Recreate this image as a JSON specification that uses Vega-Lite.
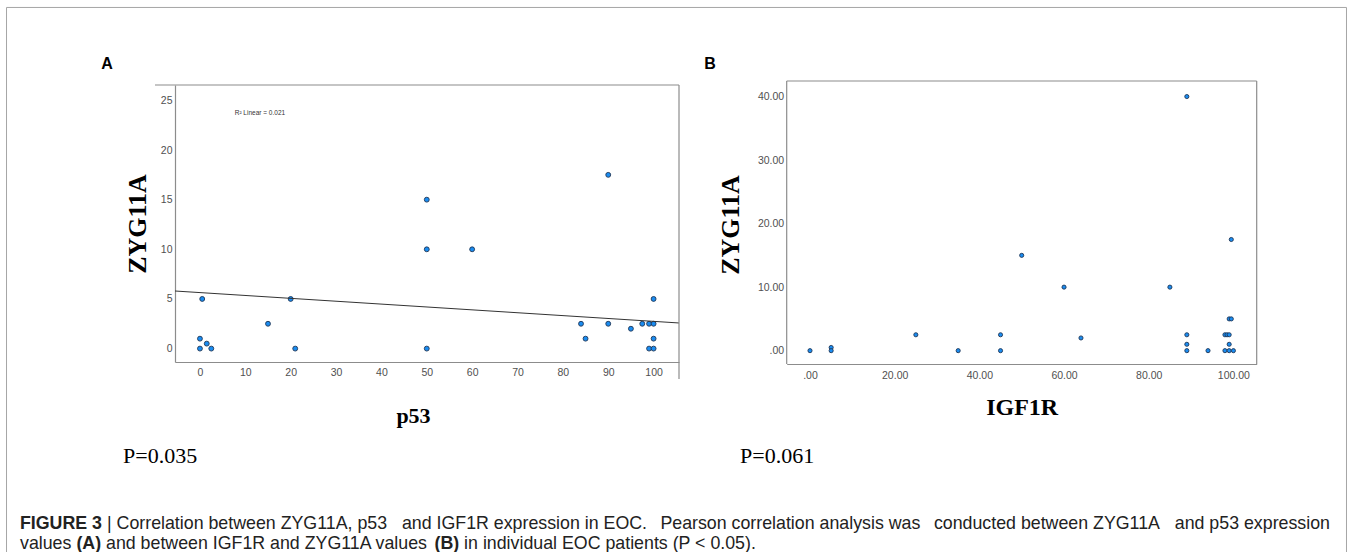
{
  "$schema": "https://vega.github.io/schema/vega-lite/v6.json",
  "background": "white",
  "padding": {"left": 6, "top": 6, "right": 0, "bottom": 0},
  "autosize": {"type": "pad"},
  "bounds": "flush",
  "spacing": 107.7,
  "config": {
    "view": {"stroke": null},
    "axis": {"grid": false, "ticks": false, "labelFont": "Liberation Sans", "labelFontSize": 10.5, "labelColor": "#505050", "domainColor": "#8c8c8c", "domainWidth": 1.2, "labelOverlap": false, "labelFlush": false, "labelBound": false, "titleFont": "Liberation Serif", "titleFontWeight": "bold", "titleColor": "#000000"}
  },
  "datasets": {
    "a": [
      {"p53": 0.5, "zyg11a": 5}, {"p53": 0, "zyg11a": 1}, {"p53": 0, "zyg11a": 0}, {"p53": 1.5, "zyg11a": 0.5},
      {"p53": 2.5, "zyg11a": 0}, {"p53": 15, "zyg11a": 2.5}, {"p53": 20, "zyg11a": 5}, {"p53": 21, "zyg11a": 0},
      {"p53": 50, "zyg11a": 15}, {"p53": 50, "zyg11a": 10}, {"p53": 60, "zyg11a": 10}, {"p53": 90, "zyg11a": 17.5},
      {"p53": 50, "zyg11a": 0}, {"p53": 84, "zyg11a": 2.5}, {"p53": 85, "zyg11a": 1}, {"p53": 90, "zyg11a": 2.5},
      {"p53": 95, "zyg11a": 2}, {"p53": 97.5, "zyg11a": 2.5}, {"p53": 99, "zyg11a": 2.5}, {"p53": 100, "zyg11a": 2.5},
      {"p53": 100, "zyg11a": 5}, {"p53": 100, "zyg11a": 1}, {"p53": 99, "zyg11a": 0}, {"p53": 100, "zyg11a": 0}
    ],
    "fitA": [{"p53": -5.5, "zyg11a": 5.8}, {"p53": 105.6, "zyg11a": 2.58}],
    "b": [
      {"igf1r": 0, "zyg11a": 0}, {"igf1r": 5, "zyg11a": 0.5}, {"igf1r": 5, "zyg11a": 0}, {"igf1r": 25, "zyg11a": 2.5},
      {"igf1r": 35, "zyg11a": 0}, {"igf1r": 45, "zyg11a": 2.5}, {"igf1r": 45, "zyg11a": 0}, {"igf1r": 50, "zyg11a": 15},
      {"igf1r": 60, "zyg11a": 10}, {"igf1r": 64, "zyg11a": 2}, {"igf1r": 85, "zyg11a": 10}, {"igf1r": 89, "zyg11a": 40},
      {"igf1r": 89, "zyg11a": 2.5}, {"igf1r": 89, "zyg11a": 1}, {"igf1r": 89, "zyg11a": 0}, {"igf1r": 94, "zyg11a": 0},
      {"igf1r": 99, "zyg11a": 5}, {"igf1r": 99.5, "zyg11a": 5}, {"igf1r": 98, "zyg11a": 2.5}, {"igf1r": 98.5, "zyg11a": 2.5},
      {"igf1r": 99, "zyg11a": 2.5}, {"igf1r": 99, "zyg11a": 1}, {"igf1r": 98, "zyg11a": 0}, {"igf1r": 99, "zyg11a": 0},
      {"igf1r": 100, "zyg11a": 0}, {"igf1r": 99.5, "zyg11a": 17.5}
    ]
  },
  "hconcat": [
    {
      "width": 504,
      "height": 277,
      "layer": [
        {
          "data": {"name": "a"},
          "mark": {"type": "point", "filled": true, "size": 24, "fill": "#1a8cf0", "stroke": "#1d3557", "strokeWidth": 0.9, "opacity": 1},
          "encoding": {
            "x": {"field": "p53", "type": "quantitative", "title": "p53",
              "scale": {"domain": [-5.5, 105.6], "nice": false, "zero": false},
              "axis": {"values": [0, 10, 20, 30, 40, 50, 60, 70, 80, 90, 100], "labelPadding": 5, "titleFontSize": 22, "titleX": 238, "titleY": 60, "titleBaseline": "alphabetic", "titleAlign": "center"}},
            "y": {"field": "zyg11a", "type": "quantitative", "title": "ZYG11A",
              "scale": {"domain": [-1.35, 26.55], "nice": false, "zero": false},
              "axis": {"values": [0, 5, 10, 15, 20, 25], "labelPadding": 3, "titleFontSize": 26, "titleX": -37.5, "titleY": 138.5, "titleAngle": -90, "titleBaseline": "middle", "titleAlign": "center"}}
          }
        },
        {
          "data": {"name": "fitA"},
          "mark": {"type": "line", "color": "#333333", "strokeWidth": 1},
          "encoding": {
            "x": {"field": "p53", "type": "quantitative", "title": "p53"},
            "y": {"field": "zyg11a", "type": "quantitative", "title": "ZYG11A"}
          }
        },
        {
          "data": {"values": [{}]},
          "mark": {"type": "rule", "color": "#8c8c8c", "strokeWidth": 1.2},
          "encoding": {"x": {"datum": -9.91, "type": "quantitative", "title": "p53"}, "x2": {"datum": 105.6}, "y": {"datum": 26.55, "type": "quantitative", "title": "ZYG11A"}}
        },
        {
          "data": {"values": [{}]},
          "mark": {"type": "rule", "color": "#8c8c8c", "strokeWidth": 1.2},
          "encoding": {"x": {"datum": 105.6, "type": "quantitative", "title": "p53"}, "y": {"datum": 26.55, "type": "quantitative", "title": "ZYG11A"}, "y2": {"datum": -3.06}}
        },
        {
          "data": {"values": [{}]},
          "mark": {"type": "rule", "color": "#a6a6a6", "strokeWidth": 1},
          "encoding": {"x": {"datum": -42.64, "type": "quantitative", "title": "p53"}, "x2": {"datum": 252.74}, "y": {"datum": 34.36, "type": "quantitative", "title": "ZYG11A"}}
        },
        {
          "data": {"values": [{}]},
          "mark": {"type": "rule", "color": "#a6a6a6", "strokeWidth": 1},
          "encoding": {"x": {"datum": -42.64, "type": "quantitative", "title": "p53"}, "y": {"datum": 34.36, "type": "quantitative", "title": "ZYG11A"}, "y2": {"datum": -20.5}}
        },
        {
          "data": {"values": [{}]},
          "mark": {"type": "rule", "color": "#a6a6a6", "strokeWidth": 1},
          "encoding": {"x": {"datum": 252.74, "type": "quantitative", "title": "p53"}, "y": {"datum": 34.36, "type": "quantitative", "title": "ZYG11A"}, "y2": {"datum": -20.5}}
        },
        {
          "data": {"values": [{"t": "R² Linear = 0.021"}]},
          "mark": {"type": "text", "align": "left", "baseline": "middle", "font": "Liberation Sans", "fontSize": 6.5, "color": "#333333"},
          "encoding": {"text": {"field": "t"}, "x": {"datum": 7.66, "type": "quantitative", "title": "p53"}, "y": {"datum": 23.7, "type": "quantitative", "title": "ZYG11A"}}
        },
        {
          "data": {"values": [{"t": "A"}]},
          "mark": {"type": "text", "align": "center", "baseline": "middle", "font": "Liberation Sans", "fontWeight": "bold", "fontSize": 16, "color": "#000000"},
          "encoding": {"text": {"field": "t"}, "x": {"datum": -20.49, "type": "quantitative", "title": "p53"}, "y": {"datum": 28.67, "type": "quantitative", "title": "ZYG11A"}}
        },
        {
          "data": {"values": [{"t": "P=0.035"}]},
          "mark": {"type": "text", "align": "left", "baseline": "middle", "font": "Liberation Serif", "fontSize": 22, "color": "#000000"},
          "encoding": {"text": {"field": "t"}, "x": {"datum": -16.96, "type": "quantitative", "title": "p53"}, "y": {"datum": -10.82, "type": "quantitative", "title": "ZYG11A"}}
        },
        {
          "data": {"values": [{"t": "FIGURE 3"}]},
          "mark": {"type": "text", "align": "left", "baseline": "middle", "font": "Liberation Sans", "fontWeight": "bold", "fontSize": 17.8, "color": "#222222"},
          "encoding": {"text": {"field": "t"}, "x": {"datum": -39.67, "type": "quantitative", "title": "p53"}, "y": {"datum": -17.67, "type": "quantitative", "title": "ZYG11A"}}
        },
        {
          "data": {"values": [{"t": "| Correlation between ZYG11A, p53"}]},
          "mark": {"type": "text", "align": "left", "baseline": "middle", "font": "Liberation Sans", "fontSize": 17.8, "color": "#222222"},
          "encoding": {"text": {"field": "t"}, "x": {"datum": -20.49, "type": "quantitative", "title": "p53"}, "y": {"datum": -17.67, "type": "quantitative", "title": "ZYG11A"}}
        },
        {
          "data": {"values": [{"t": "and IGF1R expression in EOC."}]},
          "mark": {"type": "text", "align": "left", "baseline": "middle", "font": "Liberation Sans", "fontSize": 17.8, "color": "#222222"},
          "encoding": {"text": {"field": "t"}, "x": {"datum": 44.52, "type": "quantitative", "title": "p53"}, "y": {"datum": -17.67, "type": "quantitative", "title": "ZYG11A"}}
        },
        {
          "data": {"values": [{"t": "Pearson correlation analysis was"}]},
          "mark": {"type": "text", "align": "left", "baseline": "middle", "font": "Liberation Sans", "fontSize": 17.8, "color": "#222222"},
          "encoding": {"text": {"field": "t"}, "x": {"datum": 101.5, "type": "quantitative", "title": "p53"}, "y": {"datum": -17.67, "type": "quantitative", "title": "ZYG11A"}}
        },
        {
          "data": {"values": [{"t": "conducted between ZYG11A"}]},
          "mark": {"type": "text", "align": "left", "baseline": "middle", "font": "Liberation Sans", "fontSize": 17.8, "color": "#222222"},
          "encoding": {"text": {"field": "t"}, "x": {"datum": 161.79, "type": "quantitative", "title": "p53"}, "y": {"datum": -17.67, "type": "quantitative", "title": "ZYG11A"}}
        },
        {
          "data": {"values": [{"t": "and p53 expression"}]},
          "mark": {"type": "text", "align": "right", "baseline": "middle", "font": "Liberation Sans", "fontSize": 17.8, "color": "#222222"},
          "encoding": {"text": {"field": "t"}, "x": {"datum": 249.1, "type": "quantitative", "title": "p53"}, "y": {"datum": -17.67, "type": "quantitative", "title": "ZYG11A"}}
        },
        {
          "data": {"values": [{"t": "values"}]},
          "mark": {"type": "text", "align": "left", "baseline": "middle", "font": "Liberation Sans", "fontSize": 17.8, "color": "#222222"},
          "encoding": {"text": {"field": "t"}, "x": {"datum": -39.67, "type": "quantitative", "title": "p53"}, "y": {"datum": -19.73, "type": "quantitative", "title": "ZYG11A"}}
        },
        {
          "data": {"values": [{"t": "(A)"}]},
          "mark": {"type": "text", "align": "left", "baseline": "middle", "font": "Liberation Sans", "fontWeight": "bold", "fontSize": 17.8, "color": "#222222"},
          "encoding": {"text": {"field": "t"}, "x": {"datum": -27.24, "type": "quantitative", "title": "p53"}, "y": {"datum": -19.73, "type": "quantitative", "title": "ZYG11A"}}
        },
        {
          "data": {"values": [{"t": "and between IGF1R and ZYG11A values"}]},
          "mark": {"type": "text", "align": "left", "baseline": "middle", "font": "Liberation Sans", "fontSize": 17.8, "color": "#222222"},
          "encoding": {"text": {"field": "t"}, "x": {"datum": -20.71, "type": "quantitative", "title": "p53"}, "y": {"datum": -19.73, "type": "quantitative", "title": "ZYG11A"}}
        },
        {
          "data": {"values": [{"t": "(B)"}]},
          "mark": {"type": "text", "align": "left", "baseline": "middle", "font": "Liberation Sans", "fontWeight": "bold", "fontSize": 17.8, "color": "#222222"},
          "encoding": {"text": {"field": "t"}, "x": {"datum": 51.7, "type": "quantitative", "title": "p53"}, "y": {"datum": -19.73, "type": "quantitative", "title": "ZYG11A"}}
        },
        {
          "data": {"values": [{"t": "in individual EOC patients (P < 0.05)."}]},
          "mark": {"type": "text", "align": "left", "baseline": "middle", "font": "Liberation Sans", "fontSize": 17.8, "color": "#222222"},
          "encoding": {"text": {"field": "t"}, "x": {"datum": 58.23, "type": "quantitative", "title": "p53"}, "y": {"datum": -19.73, "type": "quantitative", "title": "ZYG11A"}}
        }
      ]
    },
    {
      "width": 470,
      "height": 279,
      "layer": [
        {
          "data": {"values": [{}]},
          "mark": {"type": "rule", "color": "#8c8c8c", "strokeWidth": 1.2},
          "encoding": {"x": {"datum": -5.5, "type": "quantitative", "title": "IGF1R"}, "y": {"datum": -2.1, "type": "quantitative", "title": "ZYG11A"}, "y2": {"datum": 42.45}}
        },
        {
          "data": {"values": [{}]},
          "mark": {"type": "rule", "color": "#8c8c8c", "strokeWidth": 1.2},
          "encoding": {"x": {"datum": 105.5, "type": "quantitative", "title": "IGF1R"}, "y": {"datum": -2.1, "type": "quantitative", "title": "ZYG11A"}, "y2": {"datum": 42.45}}
        },
        {
          "data": {"values": [{}]},
          "mark": {"type": "rule", "color": "#8c8c8c", "strokeWidth": 1.2},
          "encoding": {"x": {"datum": -5.5, "type": "quantitative", "title": "IGF1R"}, "x2": {"datum": 105.5}, "y": {"datum": 42.45, "type": "quantitative", "title": "ZYG11A"}}
        },
        {
          "data": {"name": "b"},
          "mark": {"type": "point", "filled": true, "size": 17, "fill": "#1a8cf0", "stroke": "#1d3557", "strokeWidth": 0.9, "opacity": 1},
          "encoding": {
            "x": {"field": "igf1r", "type": "quantitative", "title": "IGF1R",
              "scale": {"domain": [-5.5, 105.5], "nice": false, "zero": false},
              "axis": {"values": [0, 20, 40, 60, 80, 100], "labelExpr": "datum.value == 0 ? '.00' : format(datum.value, '.2f')", "labelPadding": 6, "titleFontSize": 24, "titleY": 50, "titleBaseline": "alphabetic", "titleAlign": "center"}},
            "y": {"field": "zyg11a", "type": "quantitative", "title": "ZYG11A",
              "scale": {"domain": [-2.1, 41.82], "nice": false, "zero": false},
              "axis": {"values": [0, 10, 20, 30, 40], "domain": false, "labelExpr": "datum.value == 0 ? '.00' : format(datum.value, '.2f')", "labelPadding": 3, "titleFontSize": 26, "titleX": -56.7, "titleY": 139.5, "titleAngle": -90, "titleBaseline": "middle", "titleAlign": "center"}}
          }
        },
        {
          "data": {"values": [{"t": "B"}]},
          "mark": {"type": "text", "align": "center", "baseline": "middle", "font": "Liberation Sans", "fontWeight": "bold", "fontSize": 16, "color": "#000000"},
          "encoding": {"text": {"field": "t"}, "x": {"datum": -23.61, "type": "quantitative", "title": "IGF1R"}, "y": {"datum": 45.13, "type": "quantitative", "title": "ZYG11A"}}
        },
        {
          "data": {"values": [{"t": "P=0.061"}]},
          "mark": {"type": "text", "align": "left", "baseline": "middle", "font": "Liberation Serif", "fontSize": 22, "color": "#000000"},
          "encoding": {"text": {"field": "t"}, "x": {"datum": -16.53, "type": "quantitative", "title": "IGF1R"}, "y": {"datum": -16.56, "type": "quantitative", "title": "ZYG11A"}}
        }
      ]
    }
  ]
}
